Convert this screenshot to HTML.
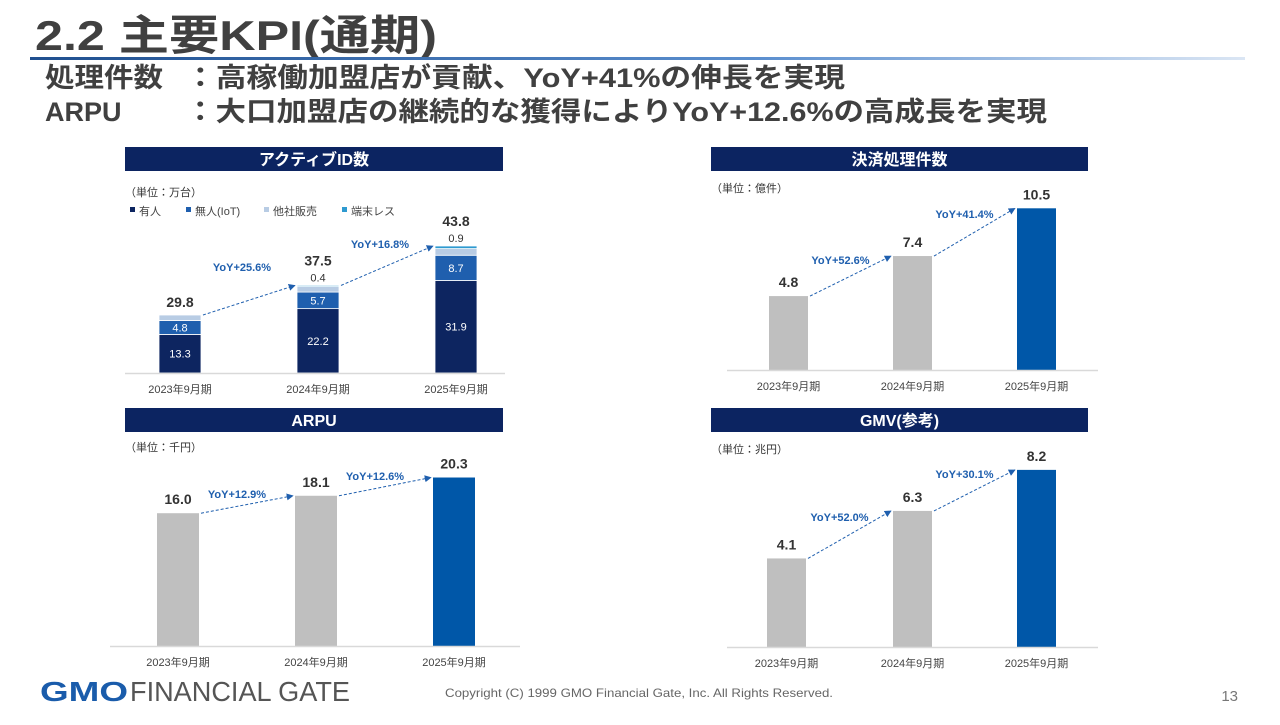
<!DOCTYPE html>
<html><head><meta charset="utf-8">
<style>
body{margin:0;width:1280px;height:720px;background:#fff;overflow:hidden;font-family:"Liberation Sans","Noto Sans CJK JP",sans-serif}
svg text{font-family:"Liberation Sans","Noto Sans CJK JP",sans-serif}
</style></head>
<body>
<svg id="s" width="1280" height="720" viewBox="0 0 1280 720" xmlns="http://www.w3.org/2000/svg">
<defs><linearGradient id="lg" x1="0" x2="1"><stop offset="0" stop-color="#1f4f8f"/><stop offset="0.6" stop-color="#5b8fcf"/><stop offset="1" stop-color="#dbe6f4"/></linearGradient>
<marker id="ar" viewBox="0 0 10 10" refX="9" refY="5" markerWidth="7" markerHeight="7" orient="auto"><path d="M0,0 L10,5 L0,10 z" fill="#1f5fae"/></marker></defs>
<text x="35" y="50" font-size="42" font-weight="bold" fill="#404040" textLength="402" lengthAdjust="spacingAndGlyphs">2.2  主要KPI(通期)</text>
<rect x="30" y="57" width="1215" height="3" fill="url(#lg)"/>
<text x="45" y="87" font-size="27" font-weight="bold" fill="#404040" textLength="118" lengthAdjust="spacingAndGlyphs">処理件数</text>
<text x="185" y="87" font-size="27" font-weight="bold" fill="#404040" textLength="660" lengthAdjust="spacingAndGlyphs">：高稼働加盟店が貢献、YoY+41%の伸長を実現</text>
<text x="45" y="121" font-size="27" font-weight="bold" fill="#404040">ARPU</text>
<text x="185" y="121" font-size="27" font-weight="bold" fill="#404040" textLength="862" lengthAdjust="spacingAndGlyphs">：大口加盟店の継続的な獲得によりYoY+12.6%の高成長を実現</text>
<g id="charts"></g>
<text x="40" y="701" font-size="28" font-weight="bold" fill="#1a5cab" textLength="88" lengthAdjust="spacingAndGlyphs">GMO</text>
<text x="130" y="701" font-size="28" fill="#555" textLength="220" lengthAdjust="spacingAndGlyphs">FINANCIAL GATE</text>
<text x="445" y="697" font-size="12" fill="#666" textLength="388" lengthAdjust="spacingAndGlyphs">Copyright (C) 1999 GMO Financial Gate, Inc. All Rights Reserved.</text>
<text x="1238" y="701" font-size="15" fill="#777" text-anchor="end">13</text>
</svg>
<script>
const categories=["2023年9月期","2024年9月期","2025年9月期"];
const idManned=[13.3,22.2,31.9];
const idIot=[4.8,5.7,8.7];
const idOther=[1.9,1.9,2.3];
const idNoTerm=[0,0.4,0.9];
const idTotals=[29.8,37.5,43.8];
const idYoY=["YoY+25.6%","YoY+16.8%"];
const txValues=[4.8,7.4,10.5];
const txYoY=["YoY+52.6%","YoY+41.4%"];
const arpuValues=[16.0,18.1,20.3];
const arpuYoY=["YoY+12.9%","YoY+12.6%"];
const gmvValues=[4.1,6.3,8.2];
const gmvYoY=["YoY+52.0%","YoY+30.1%"];

const NS="http://www.w3.org/2000/svg";
const G=document.getElementById('charts');
function mk(tag,at,txt){const e=document.createElementNS(NS,tag);for(const k in at)e.setAttribute(k,at[k]);if(txt!==undefined)e.textContent=txt;G.appendChild(e);return e;}
function header(x,w,y,t){
  const r=mk('rect',{x:x,y:y,width:w,height:24,fill:'#0c2461'});
  
  
  const tt=mk('text',{x:x+w/2,y:y+18,'font-size':16,'font-weight':'bold',fill:'#fff','text-anchor':'middle'},t);
  
  
}
function unit(x,y,t){const e=mk('text',{x:x,y:y,'font-size':11,fill:'#333'},t);
  
  }
function axis(x0,x1,base,xs,bw){
  const l=mk('line',{x1:x0,x2:x1,y1:base+0.5,y2:base+0.5,stroke:'#d9d9d9','stroke-width':1.5});
  
  
  categories.forEach((c,i)=>{const t=mk('text',{x:xs[i]+bw/2,y:base+20,'font-size':11,fill:'#444','text-anchor':'middle'},c);
    
    });
}
function arrow(x1,y1,x2,y2,lab,lx,ly){
  const l=mk('line',{x1:x1,y1:y1,x2:x2,y2:y2,stroke:'#1f5fae','stroke-width':1,'stroke-dasharray':'3,2','marker-end':'url(#ar)'});
  
  
  const t=mk('text',{x:lx,y:ly,'font-size':11,'font-weight':'bold',fill:'#1f5fae','text-anchor':'middle'},lab);
  
  
}
function simple(vals,yoy,xs,bw,base,scale,axX0,axX1){
  const tops=vals.map(v=>base-v*scale);
  vals.forEach((v,i)=>{
    const b=mk('rect',{x:xs[i],y:tops[i],width:bw,height:v*scale,fill:i==2?'#0057a8':'#bfbfbf'});
    
    
    const t=mk('text',{x:xs[i]+bw/2,y:tops[i]-9,'font-size':14,'font-weight':'bold',fill:'#333','text-anchor':'middle'},v.toFixed(1));
    
    
  });
  for(let i=0;i<2;i++){
    const x1=xs[i]+bw+2,y1=tops[i],x2=xs[i+1]-2,y2=tops[i+1];
    arrow(x1,y1,x2,y2,yoy[i],(x1+x2)/2-10,Math.min(y1,y2)+(Math.abs(y2-y1))*0.25-2);
  }
  axis(axX0,axX1,base,xs,bw);
}
header(125,378,147,'アクティブID数');
unit(125,196,'（単位：万台）');
const legNames=['有人','無人(IoT)','他社販売','端末レス'];
const colors=['#0d2560','#1f5fae','#b8cce4','#2e9ad0'];
const legX=[130,186,264,342];
legNames.forEach((n,i)=>{
  const r=mk('rect',{x:legX[i],y:207,width:5,height:5,fill:colors[i]});
  
  
  const t=mk('text',{x:legX[i]+9,y:215,'font-size':11,fill:'#444'},n);
  
  
});
{
  const xs=[159,297,435],bw=42,base=373,sc=2.9;
  const series=[idManned,idIot,idOther,idNoTerm];
  const tops=[];
  categories.forEach((c,i)=>{
    let y=base;
    series.forEach((s,k)=>{
      const h=s[i]*sc; if(h<=0)return;
      y-=h;
      const r=mk('rect',{x:xs[i],y:y,width:bw,height:h,fill:colors[k],stroke:'#fff','stroke-width':0.8});
      
      
      if(k<2){const t=mk('text',{x:xs[i]+bw/2,y:y+h/2+4,'font-size':11,fill:'#fff','text-anchor':'middle'},s[i].toFixed(1));
        
        }
    });
    if(idNoTerm[i]>0){const t=mk('text',{x:xs[i]+bw/2,y:y-4,'font-size':11,fill:'#333','text-anchor':'middle'},idNoTerm[i].toFixed(1));
      
      }
    tops.push(y);
    const off=idNoTerm[i]>0?20:8;
    const t=mk('text',{x:xs[i]+bw/2,y:y-off,'font-size':14,'font-weight':'bold',fill:'#333','text-anchor':'middle'},idTotals[i].toFixed(1));
    
    
  });
  arrow(xs[0]+bw+2,tops[0],xs[1]-2,tops[1],idYoY[0],242,271);
  arrow(xs[1]+bw+2,tops[1],xs[2]-2,tops[2],idYoY[1],380,248);
  axis(125,505,base,xs,bw);
}
header(711,377,147,'決済処理件数');
unit(711,192,'（単位：億件）');
simple(txValues,txYoY,[769,893,1017],39,370,15.4,727,1098);
header(125,378,408,'ARPU');
unit(125,451,'（単位：千円）');
simple(arpuValues,arpuYoY,[157,295,433],42,646,8.3,110,520);
header(711,377,408,'GMV(参考)');
unit(711,453,'（単位：兆円）');
simple(gmvValues,gmvYoY,[767,893,1017],39,647,21.6,727,1098);
</script>
</body></html>
